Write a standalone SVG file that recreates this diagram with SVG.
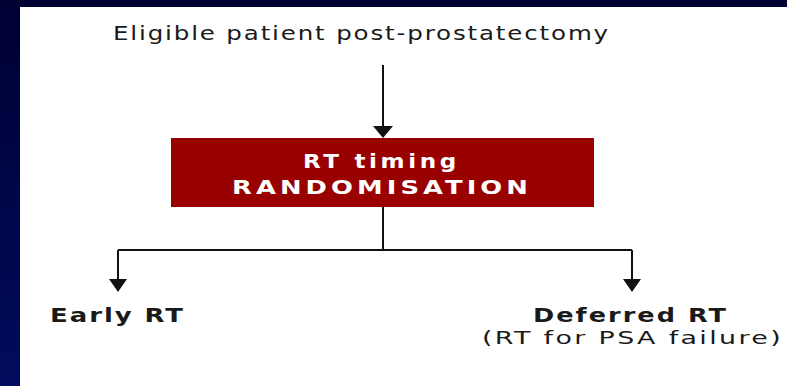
<svg xmlns="http://www.w3.org/2000/svg" width="787" height="386" viewBox="0 0 787 386">
  <defs>
    <linearGradient id="bg" x1="0" y1="0" x2="0" y2="1">
      <stop offset="0" stop-color="#000033"/>
      <stop offset="1" stop-color="#000c5c"/>
    </linearGradient>
  </defs>
  <style>
    .label { font-family: "DejaVu Sans", Verdana, sans-serif; fill: #1a1a1a; letter-spacing: 1.5px; }
    .bold { font-weight: bold; }
    .boxText { font-family: "DejaVu Sans", Verdana, sans-serif; font-weight: bold; fill: #ffffff; font-size: 19px; letter-spacing: 3px; }
    .wire { fill: none; stroke: #111; stroke-width: 2; }
    .head { fill: #111; }
  </style>

  <!-- slide backdrop and white content panel -->
  <rect x="0" y="0" width="787" height="386" fill="url(#bg)"/>
  <rect x="20" y="7" width="767" height="379" fill="#ffffff"/>

  <g id="connectors">
    <!-- entry into randomisation -->
    <line class="wire" x1="383" y1="65" x2="383" y2="128"/>
    <path class="head" d="M373,126 L393,126 L383,138 Z"/>
    <!-- split to the two arms -->
    <path class="wire" d="M383,207 L383,250 M118,250 L632,250 M118,250 L118,282 M632,250 L632,282"/>
    <path class="head" d="M109,279 L127,279 L118,292 Z"/>
    <path class="head" d="M623,279 L641,279 L632,292 Z"/>
  </g>

  <g id="eligible">
    <text class="label" x="113" y="40" font-size="20" textLength="497" lengthAdjust="spacingAndGlyphs">Eligible patient post-prostatectomy</text>
  </g>

  <g id="randomisation">
    <rect x="171" y="138" width="423" height="69" fill="#990000"/>
    <text class="boxText" x="303" y="168" textLength="157" lengthAdjust="spacingAndGlyphs">RT timing</text>
    <text class="boxText" x="232" y="194" textLength="300" lengthAdjust="spacingAndGlyphs">RANDOMISATION</text>
  </g>

  <g id="early">
    <text class="label bold" x="50" y="322" font-size="20" textLength="135" lengthAdjust="spacingAndGlyphs">Early RT</text>
  </g>

  <g id="deferred">
    <text class="label bold" x="533" y="322" font-size="19" textLength="195" lengthAdjust="spacingAndGlyphs">Deferred RT</text>
    <text class="label" x="482" y="344" font-size="17" textLength="301" lengthAdjust="spacingAndGlyphs">(RT for PSA failure)</text>
  </g>
</svg>
